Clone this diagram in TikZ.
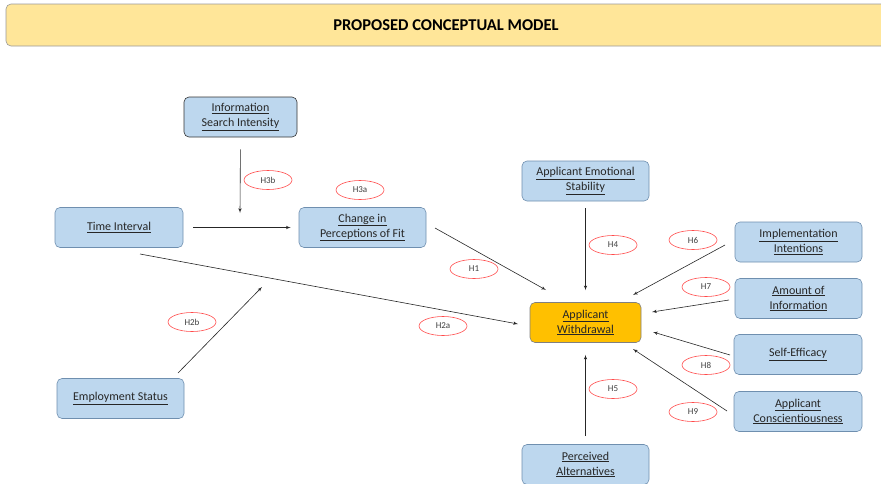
\documentclass[tikz,border=0pt]{standalone}
\usepackage{fontspec}
\setmainfont{Carlito}
\usetikzlibrary{arrows,shapes.geometric}

\definecolor{boxblue}{HTML}{BDD7EE}
\definecolor{boxline}{HTML}{6F8FAF}
\definecolor{gold}{HTML}{FFC000}
\definecolor{banner}{HTML}{FFE699}
\definecolor{hypred}{HTML}{FF4B4B}
\definecolor{ink}{HTML}{262626}

\newcommand{\ul}[1]{\underline{#1}}

\begin{document}
\begin{tikzpicture}[x=1pt,y=-1pt,->,>=latex',line width=0.6pt,draw=ink]
  \tikzstyle{every node}=[text=ink]
  \tikzstyle{var}=[shape=rectangle,rounded corners=5pt,fill=boxblue,draw=boxline,
    minimum width=127pt,minimum height=40pt,inner sep=0pt,align=center,
    font=\fontsize{12}{15}\selectfont]
  \tikzstyle{hyp}=[shape=ellipse,draw=hypred,fill=white,minimum width=48pt,
    minimum height=19pt,inner sep=0pt,font=\fontsize{9}{10}\selectfont,text=black!75]

  \useasboundingbox (0,0) rectangle (881,483);

  % title banner
  \node[shape=rectangle,rounded corners=5pt,fill=banner,draw=black!40,
    minimum width=880pt,minimum height=42pt,font=\fontsize{16.5}{18}\selectfont\bfseries,
    text=black] (title) at (446,25) {PROPOSED CONCEPTUAL MODEL};

  % variables
  \node[var,minimum width=113pt,draw=black!80] (info) at (240.5,117) {\ul{Information}\\\ul{Search Intensity}};
  \node[var,minimum width=128pt] (time) at (119,227.5) {\ul{Time Interval}};
  \node[var] (change) at (362.5,227.5) {\ul{Change in}\\\ul{Perceptions of Fit}};
  \node[var] (stab) at (585.5,181) {\ul{Applicant Emotional}\\\ul{Stability}};
  \node[var,minimum width=111pt,fill=gold,draw=black!50] (withd) at (585.5,322.5) {\ul{Applicant}\\\ul{Withdrawal}};
  \node[var] (impl) at (798.5,242) {\ul{Implementation}\\\ul{Intentions}};
  \node[var] (amount) at (798.5,298.5) {\ul{Amount of}\\\ul{Information}};
  \node[var,minimum width=128pt] (selfeff) at (798,354.5) {\ul{Self-Efficacy}};
  \node[var,minimum width=128pt] (consc) at (798,411.5) {\ul{Applicant}\\\ul{Conscientiousness}};
  \node[var] (perc) at (585.5,464.5) {\ul{Perceived}\\\ul{Alternatives}};
  \node[var] (employ) at (120.5,398.5) {\ul{Employment Status}};

  % free ends of the paths
  \coordinate (modTip) at (240,213);
  \coordinate (empTip) at (262,287);
  \coordinate (empStart) at (178,373);
  \coordinate (timeStart) at (140,254);
  \coordinate (wdLeft) at (518,324);
  \coordinate (chStart) at (435,228);
  \coordinate (wdTopL) at (546,290);
  \coordinate (implStart) at (725,245);
  \coordinate (wdTopR) at (633,295);
  \coordinate (amtStart) at (729,300);
  \coordinate (wdRight) at (652,312);
  \coordinate (selfStart) at (730,355);
  \coordinate (wdRight2) at (653,332);
  \coordinate (conStart) at (727,411);
  \coordinate (wdBotR) at (633,349);

  \draw[shorten <=12pt] (info.south) -- (modTip);
  \draw[shorten <=10pt,shorten >=8pt] (time.east) -- (change.west);
  \draw (empStart) -- (empTip);
  \draw (timeStart) -- (wdLeft);
  \draw (chStart) -- (wdTopL);
  \draw[shorten <=7pt,shorten >=12pt] (stab.south) -- (withd.north);
  \draw (implStart) -- (wdTopR);
  \draw (amtStart) -- (wdRight);
  \draw (selfStart) -- (wdRight2);
  \draw (conStart) -- (wdBotR);
  \draw[shorten <=8pt,shorten >=12pt] (perc.north) -- (withd.south);

  % hypotheses
  \node[hyp] (h3b) at (268,180) {H3b};
  \node[hyp] (h3a) at (360,190) {H3a};
  \node[hyp] (h1) at (474,269) {H1};
  \node[hyp] (h4) at (613,245) {H4};
  \node[hyp] (h6) at (693,240) {H6};
  \node[hyp] (h7) at (706,287) {H7};
  \node[hyp] (h2a) at (443,326) {H2a};
  \node[hyp] (h2b) at (192,322) {H2b};
  \node[hyp] (h8) at (706,365) {H8};
  \node[hyp] (h5) at (613,389) {H5};
  \node[hyp] (h9) at (693,412) {H9};
\end{tikzpicture}
\end{document}
